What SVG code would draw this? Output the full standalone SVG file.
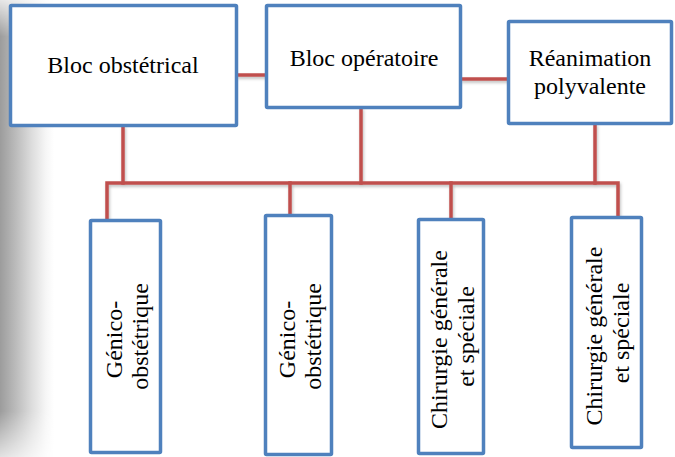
<svg xmlns="http://www.w3.org/2000/svg" width="675" height="457" viewBox="0 0 675 457">
  <defs>
    <linearGradient id="edgeShade" x1="0" y1="0" x2="1" y2="0">
      <stop offset="0" stop-color="#9c9c9c"/>
      <stop offset="0.3" stop-color="#bcbcbc"/>
      <stop offset="0.6" stop-color="#dedede"/>
      <stop offset="0.85" stop-color="#f6f6f6"/>
      <stop offset="1" stop-color="#ffffff"/>
    </linearGradient>
    <linearGradient id="edgeFade" x1="0" y1="0" x2="0" y2="1">
      <stop offset="0" stop-color="#fff" stop-opacity="0.25"/>
      <stop offset="0.08" stop-color="#fff" stop-opacity="1"/>
      <stop offset="0.9" stop-color="#fff" stop-opacity="1"/>
      <stop offset="1" stop-color="#fff" stop-opacity="0.3"/>
    </linearGradient>
    <mask id="edgeMask">
      <rect x="0" y="0" width="60" height="457" fill="url(#edgeFade)"/>
    </mask>
    <filter id="lineShadow" x="-10%" y="-10%" width="120%" height="130%">
      <feDropShadow dx="1" dy="2" stdDeviation="1.5" flood-color="#000" flood-opacity="0.25"/>
    </filter>
  </defs>
  <style>
    .box { fill: #ffffff; stroke: #4f81bd; stroke-width: 3.5; }
    .link { fill: none; stroke: #c0504d; stroke-width: 3.5; stroke-linecap: square; }
    .label { font-family: 'Liberation Serif', 'Times New Roman', Times, 'DejaVu Serif', serif; font-size: 24px; fill: #000; text-anchor: middle; }
  </style>

  <!-- shaded left margin -->
  <rect x="0" y="0" width="54" height="457" fill="url(#edgeShade)" mask="url(#edgeMask)"/>

  <!-- connectors -->
  <g id="connectors" filter="url(#lineShadow)">
    <path class="link" d="M238 75 H265"/>
    <path class="link" d="M462 79 H507"/>
    <path class="link" d="M123 127 V183"/>
    <path class="link" d="M361 109 V183"/>
    <path class="link" d="M595 125 V183"/>
    <path class="link" d="M107 219 V183 H618 V216"/>
    <path class="link" d="M290 183 V214"/>
    <path class="link" d="M451 183 V218"/>
  </g>

  <!-- top row -->
  <g id="bloc-obstetrical">
    <rect class="box" x="10.5" y="5.5" width="226" height="120" rx="1"/>
    <text class="label" x="123" y="73" font-family="Liberation Serif, serif">Bloc obstétrical</text>
  </g>
  <g id="bloc-operatoire">
    <rect class="box" x="266.5" y="5.5" width="194" height="102" rx="1"/>
    <text class="label" x="364" y="65.5" font-family="Liberation Serif, serif">Bloc opératoire</text>
  </g>
  <g id="reanimation">
    <rect class="box" x="508.5" y="21.5" width="163" height="102" rx="1"/>
    <text class="label" x="590" y="66" font-family="Liberation Serif, serif">Réanimation</text>
    <text class="label" x="590" y="94" font-family="Liberation Serif, serif">polyvalente</text>
  </g>

  <!-- bottom row -->
  <g id="genico-1">
    <rect class="box" x="90.5" y="220.5" width="70" height="232" rx="1"/>
    <text class="label" font-family="Liberation Serif, serif" transform="translate(122 336.5) rotate(-90)">
      <tspan x="0" y="0">Génico-</tspan>
      <tspan x="0" y="25.5">obstétrique</tspan>
    </text>
  </g>
  <g id="genico-2">
    <rect class="box" x="265.5" y="215.5" width="66" height="239" rx="1"/>
    <text class="label" font-family="Liberation Serif, serif" transform="translate(295 336.5) rotate(-90)">
      <tspan x="0" y="0">Génico-</tspan>
      <tspan x="0" y="25.5">obstétrique</tspan>
    </text>
  </g>
  <g id="chirurgie-1">
    <rect class="box" x="418.5" y="219.5" width="65" height="234" rx="1"/>
    <text class="label" font-family="Liberation Serif, serif" transform="translate(446.5 336.5) rotate(-90)">
      <tspan x="0" y="0">Chirurgie générale</tspan>
      <tspan x="0" y="27.5">et spéciale</tspan>
    </text>
  </g>
  <g id="chirurgie-2">
    <rect class="box" x="571.5" y="217.5" width="70" height="230" rx="1"/>
    <text class="label" font-family="Liberation Serif, serif" transform="translate(601.5 333) rotate(-90)">
      <tspan x="0" y="0">Chirurgie générale</tspan>
      <tspan x="0" y="27">et spéciale</tspan>
    </text>
  </g>
</svg>
